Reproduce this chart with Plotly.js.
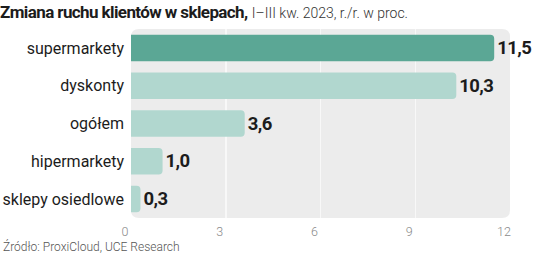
<!DOCTYPE html>
<html>
<head>
<meta charset="utf-8">
<script src="https://cdn.plot.ly/plotly-3.0.1.min.js"></script>
<style>html,body{margin:0;padding:0;background:#fff;}#chart{width:536px;height:256px;}</style>
</head>
<body>
<div id="chart"></div>
<script>
const categories = ["supermarkety", "dyskonty", "ogółem", "hipermarkety", "sklepy osiedlowe"];
const values = [11.5, 10.3, 3.6, 1.0, 0.3];
const barColors = ["#5ba795", "#b1d7cf", "#b1d7cf", "#b1d7cf", "#b1d7cf"];
const tickValues = [0, 3, 6, 9, 12];
const tickLabels = ["0", "3", "6", "9", "12"];
const titleBold = "Zmiana ruchu klientów w sklepach,";
const titleLight = "I–III kw. 2023, r./r. w proc.";
const sourceText = "Źródło: ProxiCloud, UCE Research";

const rx = 8 / 379.5, ry = 8 / 189;
const panelPath = `M ${rx},0 L ${1-rx},0 Q 1,0 1,${ry} L 1,${1-ry} Q 1,1 ${1-rx},1 L ${rx},1 Q 0,1 0,${1-ry} L 0,${ry} Q 0,0 ${rx},0 Z`;

const trace = {
  type: "bar",
  orientation: "h",
  x: values,
  y: categories,
  width: 0.7,
  marker: {color: barColors, line: {width: 0}},
  texttemplate: "<span style='letter-spacing:-0.6px'>%{x:.1f}</span>",
  textposition: "outside",
  cliponaxis: false,
  constraintext: "none",
  textfont: {family: "Roboto, sans-serif", size: 18.5, color: "#1c1c1c", weight: 700},
  hoverinfo: "none"
};

const layout = {
  width: 536,
  height: 256,
  margin: {l: 130.5, r: 26, t: 29, b: 38, pad: 0},
  paper_bgcolor: "#ffffff",
  plot_bgcolor: "rgba(0,0,0,0)",
  separators: ", ",
  barcornerradius: 4,
  showlegend: false,
  title: {
    text: "<span style='letter-spacing:-0.6px'><b>" + titleBold + "</b></span> <span style='font-weight:300;font-size:14px;color:#333'>" + titleLight + "</span>",
    x: 0, xref: "container", xanchor: "left",
    y: 1 - 12 / 256, yref: "container", yanchor: "middle",
    font: {family: "Roboto, sans-serif", size: 17, color: "#1c1c1c"}
  },
  xaxis: {
    range: [0, 12],
    tickvals: tickValues,
    ticktext: tickLabels,
    showgrid: true,
    gridcolor: "#f8f8f8",
    gridwidth: 1.5,
    zeroline: false,
    showline: false,
    ticks: "",
    tickfont: {family: "Roboto, sans-serif", size: 12.5, color: "#8a8a8a", weight: 300},
    ticklabelshift: -6,
    ticklabelstandoff: 4,
    fixedrange: true
  },
  yaxis: {
    autorange: "reversed",
    showgrid: false,
    zeroline: false,
    showline: false,
    ticks: "",
    tickfont: {family: "Roboto, sans-serif", size: 16, color: "#1c1c1c"},
    ticklabelstandoff: 6,
    fixedrange: true
  },
  shapes: [{
    type: "path",
    xref: "paper", yref: "paper",
    path: panelPath,
    fillcolor: "#ececec",
    line: {width: 0},
    layer: "below"
  }],
  annotations: [{
    text: sourceText,
    xref: "paper", yref: "paper",
    x: -130.5 / 379.5, y: -(246 - 218) / 189,
    xanchor: "left", yanchor: "middle",
    showarrow: false,
    font: {family: "Roboto, sans-serif", size: 12, color: "#555555", weight: 300}
  }]
};

Plotly.newPlot("chart", [trace], layout, {displayModeBar: false, staticPlot: true});
</script>
</body>
</html>
